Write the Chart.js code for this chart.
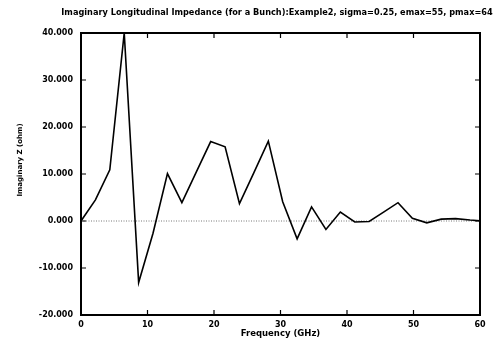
<!DOCTYPE html>
<html>
<head>
<meta charset="utf-8">
<script src="https://cdn.jsdelivr.net/npm/chart.js@4/dist/chart.umd.min.js"></script>
<style>
  html, body { margin: 0; padding: 0; background: #fff; }
  #wrap { width: 500px; height: 345px; }
</style>
</head>
<body>
<div id="wrap"><canvas id="chart" width="500" height="345"></canvas></div>
<script>
// Data
const freqGHz = [0, 2.17, 4.33, 6.5, 8.67, 10.83, 13.0, 15.17, 17.33, 19.5, 21.67, 23.83, 26.0, 28.17,
    30.33, 32.5, 34.67, 36.83, 39.0, 41.17, 43.33, 45.5, 47.67, 49.83, 52.0, 54.17, 56.33, 58.5, 60.67];
const imagZ = [0, 4.5, 10.9, 40, -13.1, -2.6, 10.1, 3.9, 10.4, 16.9, 15.8, 3.7, 10.3, 17.0,
    4.1, -3.8, 3.0, -1.8, 1.9, -0.2, -0.1, 1.9, 3.9, 0.6, -0.4, 0.4, 0.5, 0.2, 0];
const xTicks = [0, 10, 20, 30, 40, 50, 60];
const yTicks = [-20, -10, 0, 10, 20, 30, 40];

const titleText = 'Imaginary Longitudinal Impedance (for a Bunch):Example2, sigma=0.25, emax=55, pmax=64';
const xTitle = 'Frequency (GHz)';
const yTitle = 'Imaginary Z (ohm)';
const FONT = 'DejaVu Sans';

// frame, inward ticks and the text labels (gnuplot look)
const framePlugin = {
    id: 'frame',
    afterDraw(chart) {
        const { ctx, chartArea: a, scales } = chart;
        ctx.save();
        ctx.strokeStyle = '#000';
        ctx.lineWidth = 2;
        ctx.strokeRect(a.left, a.top, a.right - a.left, a.bottom - a.top);

        ctx.lineWidth = 1.2;
        ctx.beginPath();
        scales.x.ticks.forEach(t => {
            const px = scales.x.getPixelForValue(t.value);
            ctx.moveTo(px, a.bottom); ctx.lineTo(px, a.bottom - 5);
            ctx.moveTo(px, a.top); ctx.lineTo(px, a.top + 5);
        });
        scales.y.ticks.forEach(t => {
            const py = scales.y.getPixelForValue(t.value);
            ctx.moveTo(a.left, py); ctx.lineTo(a.left + 5, py);
            ctx.moveTo(a.right, py); ctx.lineTo(a.right - 5, py);
        });
        ctx.stroke();

        ctx.fillStyle = '#000';
        ctx.textAlign = 'center';
        ctx.textBaseline = 'middle';
        // title squeezed to the width it has in the original
        let size = 9;
        ctx.font = 'bold ' + size + 'px "' + FONT + '"';
        while (ctx.measureText(titleText).width > 433 && size > 6) {
            size -= 0.1;
            ctx.font = 'bold ' + size + 'px "' + FONT + '"';
        }
        ctx.fillText(titleText, 277, 13);
        ctx.font = 'bold 8.5px "' + FONT + '"';
        ctx.fillText(xTitle, (a.left + a.right) / 2, 334);
        ctx.font = 'bold 7px "' + FONT + '"';
        ctx.translate(20, 160);
        ctx.rotate(-Math.PI / 2);
        ctx.fillText(yTitle, 0, 0);
        ctx.restore();
    }
};

new Chart(document.getElementById('chart'), {
    type: 'scatter',
    data: {
        datasets: [{
            data: freqGHz.map((f, i) => ({ x: f, y: imagZ[i] })),
            showLine: true,
            borderColor: '#000',
            borderWidth: 1.6,
            pointRadius: 0,
            tension: 0
        }, {
            data: [{ x: 0, y: 0 }, { x: 60, y: 0 }],
            showLine: true,
            borderColor: '#555',
            borderWidth: 0.8,
            borderDash: [1, 1.5],
            pointRadius: 0
        }]
    },
    options: {
        responsive: false,
        animation: false,
        devicePixelRatio: 1,
        layout: { padding: { top: 33, right: 20, bottom: 0, left: 0 } },
        plugins: {
            legend: { display: false },
            tooltip: { enabled: false },
            title: { display: false }
        },
        scales: {
            x: {
                type: 'linear',
                min: 0,
                max: 60,
                afterBuildTicks: s => { s.ticks = xTicks.map(v => ({ value: v })); },
                afterFit: s => { s.height = 30; },
                grid: { display: false, drawTicks: false },
                border: { display: false },
                ticks: {
                    color: '#000',
                    padding: 5,
                    font: { family: FONT, size: 8, weight: 'bold' }
                }
            },
            y: {
                min: -20,
                max: 40,
                afterBuildTicks: s => { s.ticks = yTicks.map(v => ({ value: v })); },
                afterFit: s => { s.width = 81; },
                grid: { display: false, drawTicks: false },
                border: { display: false },
                ticks: {
                    color: '#000',
                    padding: 8,
                    font: { family: FONT, size: 8, weight: 'bold' },
                    callback: v => v.toFixed(3)
                }
            }
        }
    },
    plugins: [framePlugin]
});
</script>
</body>
</html>
